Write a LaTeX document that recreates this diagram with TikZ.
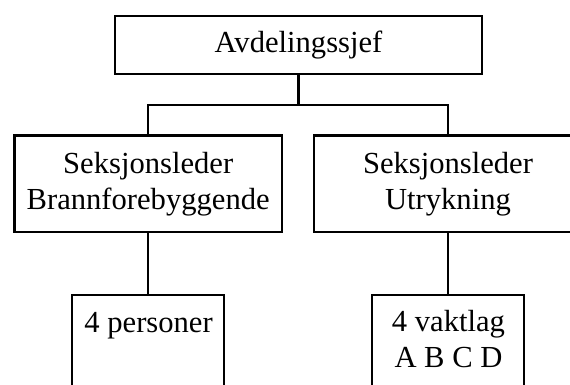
\documentclass[tikz,border=0pt]{standalone}
\usepackage{fontspec}
\setmainfont{Liberation Serif}
\usetikzlibrary{calc}
\begin{document}
\begin{tikzpicture}[x=1pt,y=-1pt,
  orgbox/.style={draw, line width=2.3pt, inner sep=0pt, align=center,
    font=\fontsize{30.6}{36}\selectfont},
  orgtext/.style={inner sep=0pt, align=center, font=\fontsize{30.6}{36}\selectfont},
  link/.style={line width=2.3pt}]
\useasboundingbox (0,0) rectangle (570,384);
\clip (0,0) rectangle (570,384);

% head of department
\node[orgbox, minimum width=367pt, minimum height=58pt] (head) at (298.5,45) {Avdelingssjef};

% section leaders
\node[orgbox, minimum width=267.5pt, minimum height=96.5pt] (secL) at (148.2,183.7)
  {Seksjonsleder\\Brannforebyggende};
\node[orgbox, minimum width=267.5pt, minimum height=96.5pt] (secR) at (448,183.7)
  {Seksjonsleder\\Utrykning};

% teams below each section
\node[orgbox, minimum width=152pt, minimum height=120pt, anchor=north] (teamL) at (148.2,293.7) {};
\node[orgbox, minimum width=152pt, minimum height=120pt, anchor=north] (teamR) at (448,293.7) {};
\node[orgtext, anchor=base] (teamLtext) at (148.6,332) {4 personer};
\node[orgtext] (teamRtext) at (448.5,339.5) {4 vaktlag\\A B C D};

% connectors
\coordinate (bus) at (298.5,105);
\draw[link] (head.south) -- (bus);
\draw[link] (secL.north) -- (secL.north |- bus) -- (secR.north |- bus) -- (secR.north);
\draw[link] (secL.south) -- (teamL.north);
\draw[link] (secR.south) -- (teamR.north);
\end{tikzpicture}
\end{document}
